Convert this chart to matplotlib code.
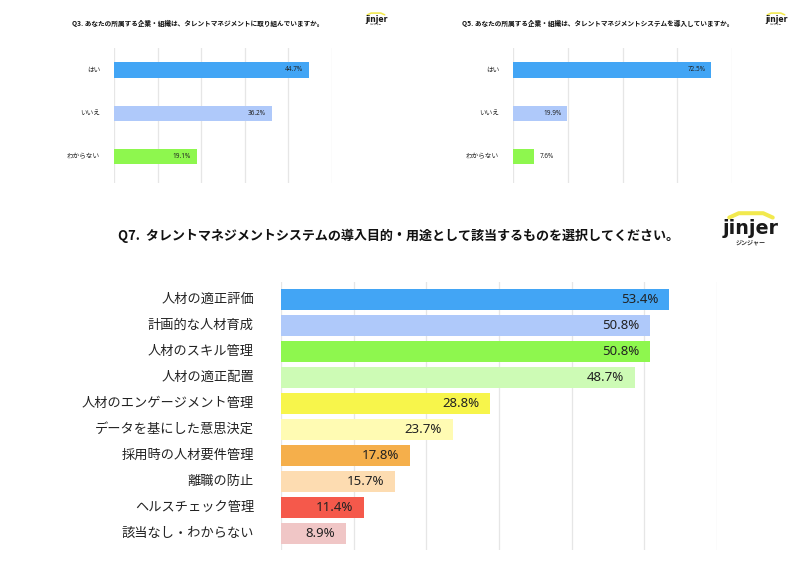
import matplotlib
matplotlib.use("Agg")
import matplotlib.pyplot as plt
from matplotlib.lines import Line2D

plt.rcParams['font.family'] = ['Noto Sans CJK JP', 'DejaVu Sans']

# ---------------- data ----------------
q3_title = "Q3. あなたの所属する企業・組織は、タレントマネジメントに取り組んでいますか。"
q3_labels = ["はい", "いいえ", "わからない"]
q3_values = [44.7, 36.2, 19.1]

q5_title = "Q5. あなたの所属する企業・組織は、タレントマネジメントシステムを導入していますか。"
q5_labels = ["はい", "いいえ", "わからない"]
q5_values = [72.5, 19.9, 7.6]

top_colors = ["#42A5F5", "#AFC9FA", "#8EF74E"]

q7_title = "Q7.  タレントマネジメントシステムの導入目的・用途として該当するものを選択してください。"
q7_labels = ["人材の適正評価", "計画的な人材育成", "人材のスキル管理", "人材の適正配置",
             "人材のエンゲージメント管理", "データを基にした意思決定", "採用時の人材要件管理",
             "離職の防止", "ヘルスチェック管理", "該当なし・わからない"]
q7_values = [53.4, 50.8, 50.8, 48.7, 28.8, 23.7, 17.8, 15.7, 11.4, 8.9]
q7_colors = ["#42A5F5", "#AFC9FA", "#8EF74E", "#CDFBB5", "#F7F54B",
             "#FFFBB3", "#F5AF4B", "#FDDCB1", "#F5594B", "#F0C6C6"]

W, H = 800, 575
fig = plt.figure(figsize=(W / 100, H / 100), dpi=100)
fig.patch.set_facecolor("white")

NUM_FONT = ['Noto Sans', 'Noto Sans CJK JP']
TXT = "#222222"
GRID = "#E6E6E6"


def px_axes(x0, x1, y0, y1):
    return fig.add_axes([x0 / W, 1 - y1 / H, (x1 - x0) / W, (y1 - y0) / H])


def style_axes(ax, xmax, step, ylim):
    ax.set_xlim(0, xmax)
    ax.set_ylim(*ylim)
    ax.set_xticks(range(0, xmax + 1, step))
    ax.set_xticklabels([])
    ax.tick_params(length=0, labelleft=False)
    ax.grid(axis="x", color=GRID, linewidth=0.9)
    ax.set_axisbelow(True)
    for s in ax.spines.values():
        s.set_visible(False)


def logo(xc, yc, size, sub=True):
    # yellow roof above the wordmark
    w = size * 3.0
    hgt = size * 0.3
    base = yc - size * 0.72
    xs = [xc - w / 2, xc - w / 2 + w * 0.22, xc + w / 2 - w * 0.22, xc + w / 2]
    ys = [base, base - hgt, base - hgt, base]
    fig.add_artist(Line2D([x / W for x in xs], [1 - y / H for y in ys],
                          color="#F2E94E", linewidth=size / 5,
                          solid_capstyle="round", solid_joinstyle="round"))
    fig.text(xc / W, 1 - yc / H, "jinjer", fontsize=size * 0.95, fontweight="bold",
             family=['DejaVu Sans'], color="#1a1a1a", ha="center", va="center")
    if sub:
        fig.text(xc / W, 1 - (yc + size * 1.05) / H, "ジンジャー", fontsize=size * 0.3,
                 fontweight="bold", color="#333333", ha="center", va="center")


# ---------------- top charts ----------------
top_ylim = (2.62, -0.51)
for (title, labels, values, xmax, step, x0, x1, tx, lx) in [
    (q3_title, q3_labels, q3_values, 50, 10, 114, 332, 198, 376),
    (q5_title, q5_labels, q5_values, 80, 20, 513, 732, 598, 776),
]:
    ax = px_axes(x0, x1, 48, 183)
    style_axes(ax, xmax, step, top_ylim)
    ypos = list(range(len(labels)))
    ax.barh(ypos, values, height=0.35, color=top_colors, zorder=2)
    ppx = xmax / (x1 - x0)
    for y, v, lab in zip(ypos, values, labels):
        if v / ppx > 30:
            ax.text(v - 6 * ppx, y, f"{v}%", ha="right", va="center", fontsize=4.6,
                    family=NUM_FONT, color=TXT, zorder=3)
        else:
            ax.text(v + 6 * ppx, y, f"{v}%", ha="left", va="center", fontsize=4.6,
                    family=NUM_FONT, color=TXT, zorder=3)
        ax.text(-14 * ppx, y, lab, ha="right", va="center", fontsize=4.8, color=TXT)
    fig.text(tx / W, 1 - 23 / H, title, ha="center", va="center", fontsize=4.8,
             fontweight="bold", color="#111111")
    logo(lx, 19, 5.8, sub=True)

# ---------------- bottom chart ----------------
ax = px_axes(281, 717, 282, 550)
style_axes(ax, 60, 10, (9.63, -0.67))
ypos = list(range(len(q7_labels)))
ax.barh(ypos, q7_values, height=0.8, color=q7_colors, zorder=2)
ppx = 60 / (717 - 281)
for y, v, lab in zip(ypos, q7_values, q7_labels):
    ax.text(v - 11 * ppx, y, f"{v}%", ha="right", va="center", fontsize=9.5,
            family=NUM_FONT, color=TXT, zorder=3)
    ax.text(-27 * ppx, y, lab, ha="right", va="center", fontsize=9.5, color=TXT)

fig.text(398 / W, 1 - 236 / H, q7_title, ha="center", va="center", fontsize=9.4,
         fontweight="bold", color="#111111")
logo(751, 228, 14.5, sub=True)

fig.savefig("out.png", dpi=100, facecolor="white")
